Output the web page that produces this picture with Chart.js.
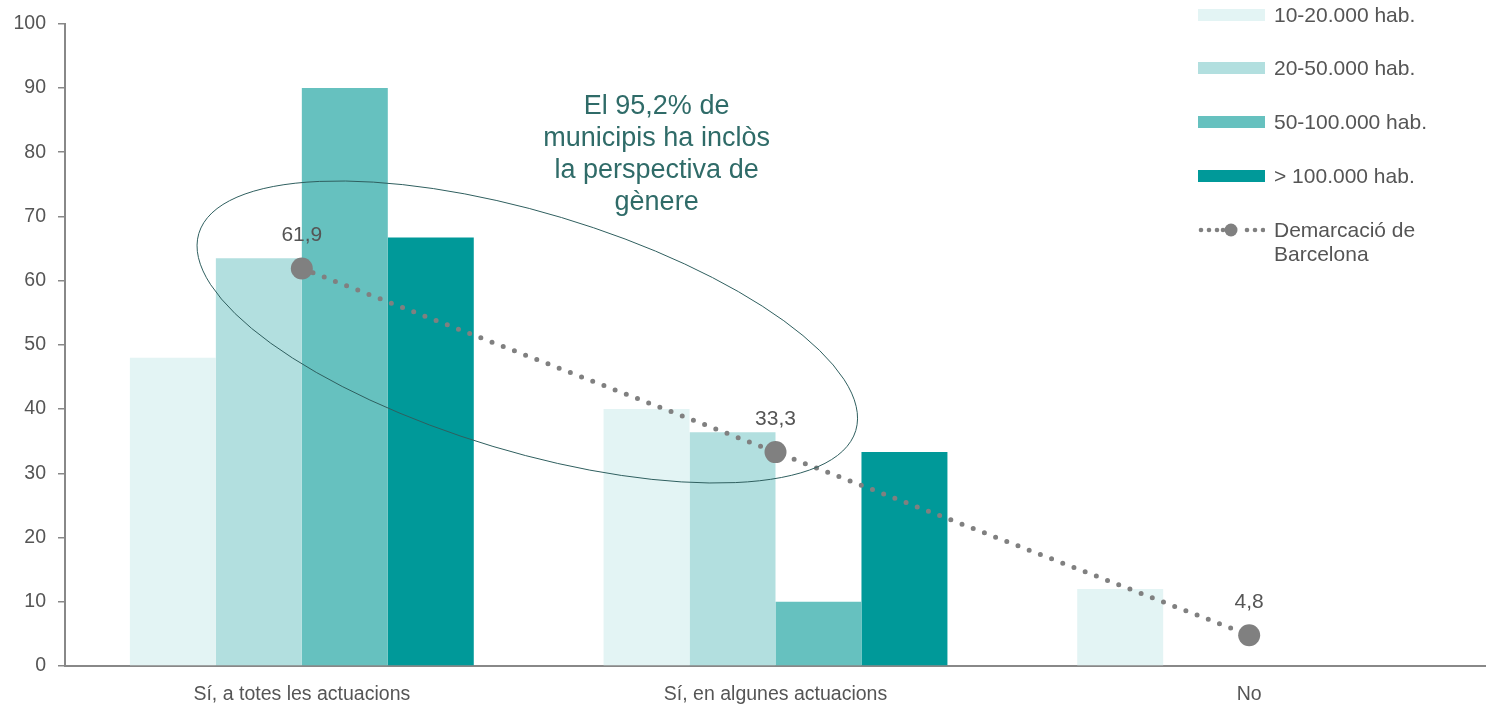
<!DOCTYPE html>
<html>
<head>
<meta charset="utf-8">
<script src="https://cdn.jsdelivr.net/npm/chart.js@4.4.0/dist/chart.umd.min.js"></script>
<style>
  body { margin: 0; background: #fff; overflow: hidden; }
  #wrap { position: relative; width: 1486px; height: 707px; }
  #legend { position: absolute; left: 1198px; top: 0; font-family: 'Liberation Sans', Arial, sans-serif; font-size: 21px; color: #555; }
  .item { position: absolute; left: 0; display: flex; align-items: flex-start; white-space: nowrap; }
  .box { width: 67px; height: 12px; margin-right: 9px; }
  .lbl { line-height: 24px; }
</style>
</head>
<body>
<div id="wrap">
  <canvas id="myChart"></canvas>
  <div id="legend"></div>
</div>
<script>
const categories = ['Sí, a totes les actuacions', 'Sí, en algunes actuacions', 'No'];
const seriesNames = ['10-20.000 hab.', '20-50.000 hab.', '50-100.000 hab.', '> 100.000 hab.'];
const seriesColors = ['#e3f4f4', '#b2dfdf', '#66c1bf', '#009999'];
const pop10to20 = [48, 40, 12];
const pop20to50 = [63.5, 36.4, 0];
const pop50to100 = [90, 10, 0];
const popOver100 = [66.7, 33.3, 0];
const lineName = 'Demarcació de Barcelona';
const demarcacio = [61.9, 33.3, 4.8];
const yTicks = [0, 10, 20, 30, 40, 50, 60, 70, 80, 90, 100];
const noteLines = ['El 95,2% de', 'municipis ha inclòs', 'la perspectiva de', 'gènere'];

const FONT = '"Liberation Sans", Arial, sans-serif';
const barSeries = [pop10to20, pop20to50, pop50to100, popOver100];

// etiquetes de la línia i l'el·lipse amb el text
const notes = {
  id: 'notes',
  afterDatasetsDraw(chart) {
    const { ctx, scales: { x, y } } = chart;
    const meta = chart.getDatasetMeta(4);
    ctx.save();
    ctx.font = '21px ' + FONT;
    ctx.fillStyle = '#555';
    ctx.textAlign = 'center';
    ctx.textBaseline = 'middle';
    meta.data.forEach((pt, i) => {
      ctx.fillText(demarcacio[i].toFixed(1).replace('.', ','), pt.x, pt.y - 33);
    });

    // el·lipse
    const cx = x.getPixelForValue(0.476);
    const cy = y.getPixelForValue(52);
    const rx = (x.getPixelForValue(1) - x.getPixelForValue(0)) * 0.724;
    const ry = y.getPixelForValue(0) - y.getPixelForValue(18.6);
    ctx.beginPath();
    ctx.ellipse(cx, cy, rx, ry, 16.7 * Math.PI / 180, 0, Math.PI * 2);
    ctx.strokeStyle = '#2f5f5f';
    ctx.lineWidth = 1;
    ctx.stroke();

    ctx.font = '27px ' + FONT;
    ctx.fillStyle = '#2f6b68';
    const tx = x.getPixelForValue(0.749);
    const ty = y.getPixelForValue(87.1);
    noteLines.forEach((t, i) => ctx.fillText(t, tx, ty + i * 32));
    ctx.restore();
  }
};

const ctx = document.getElementById('myChart');

new Chart(ctx, {
  data: {
    labels: categories,
    datasets: [
      ...barSeries.map((vals, i) => ({
        type: 'bar',
        label: seriesNames[i],
        data: vals,
        backgroundColor: seriesColors[i],
        barPercentage: 1,
        categoryPercentage: 0.726,
        order: 2
      })),
      {
        type: 'line',
        label: lineName,
        data: demarcacio,
        borderColor: '#808080',
        borderWidth: 5,
        borderDash: [0, 12],
        borderCapStyle: 'round',
        pointRadius: 11,
        pointBackgroundColor: '#808080',
        pointBorderWidth: 0,
        order: 1
      }
    ]
  },
  options: {
    responsive: true,
    maintainAspectRatio: false,
    animation: false,
    layout: { autoPadding: false, padding: { top: 22, right: 0, bottom: 0, left: 1 } },
    plugins: { legend: { display: false }, tooltip: { enabled: false } },
    scales: {
      x: {
        grid: { display: false },
        border: { color: '#888', width: 2 },
        ticks: { color: '#555', font: { family: FONT, size: 19.5 }, padding: 9 },
        afterFit: s => { s.height = 41; }
      },
      y: {
        min: 0,
        max: 100,
        afterBuildTicks: s => { s.ticks = yTicks.map(v => ({ value: v })); },
        grid: { drawOnChartArea: false, drawTicks: true, tickLength: 7, color: '#888', lineWidth: 1.5 },
        border: { color: '#888', width: 2 },
        ticks: { color: '#555', font: { family: FONT, size: 19.5 }, padding: 12 },
        afterFit: s => { s.width = 64; }
      }
    }
  },
  plugins: [notes]
});

// llegenda
const legend = document.getElementById('legend');
const rowTops = [9, 62, 116, 170];
seriesNames.forEach((name, i) => {
  const it = document.createElement('div');
  it.className = 'item';
  it.style.top = rowTops[i] + 'px';
  it.innerHTML = '<div class="box" style="background:' + seriesColors[i] + '"></div><span class="lbl" style="margin-top:-6px">' + name + '</span>';
  legend.appendChild(it);
});
const li = document.createElement('div');
li.className = 'item';
li.style.top = '218px';
li.innerHTML = '<svg width="67" height="24" style="margin-right:9px">' +
  [3, 11, 19, 25, 49, 57, 65].map(cx => '<circle cx="' + cx + '" cy="12" r="2.3" fill="#808080"/>').join('') +
  '<circle cx="33" cy="12" r="6.5" fill="#808080"/></svg>' +
  '<span class="lbl">Demarcació de<br>Barcelona</span>';
legend.appendChild(li);
</script>
</body>
</html>
